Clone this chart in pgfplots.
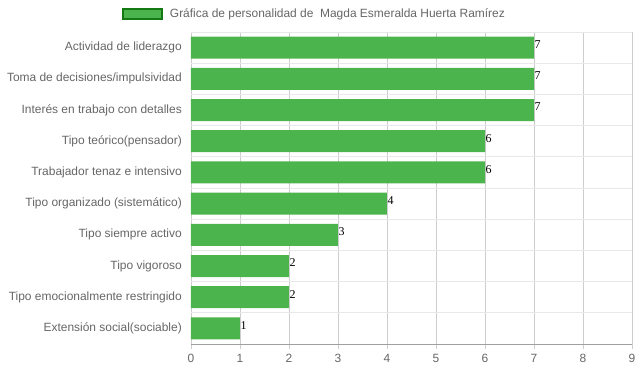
\documentclass[border=0pt]{standalone}
\usepackage{pgfplots}
\pgfplotsset{compat=1.18}
\usepackage{fontspec}
\setmainfont{Liberation Sans}
\newfontfamily\seriffont{Liberation Serif}
\definecolor{bargreen}{RGB}{76,180,76}
\definecolor{bordergreen}{RGB}{20,120,20}
\definecolor{txtgray}{RGB}{102,102,102}
\definecolor{vgrid}{RGB}{205,205,205}
\definecolor{hgrid}{RGB}{232,232,232}
\definecolor{axgray}{RGB}{160,160,160}
\begin{document}
\begin{tikzpicture}
\begin{axis}[
  at={(0,0)}, anchor=south west,
  scale only axis,
  width=441bp, height=312bp,
  xbar, bar width=22bp,
  xmin=0, xmax=9,
  ymin=-0.5, ymax=9.5,
  y dir=reverse,
  xtick={0,...,9},
  ytick={0,...,9},
  yticklabels={Actividad de liderazgo,Toma de decisiones/impulsividad,Interés en trabajo con detalles,Tipo teórico(pensador),Trabajador tenaz e intensivo,Tipo organizado (sistemático),Tipo siempre activo,Tipo vigoroso,Tipo emocionalmente restringido,Extensión social(sociable)},
  minor ytick={-0.5,0.5,...,9.5},
  xmajorgrids, yminorgrids,
  major x grid style={vgrid, line width=0.8bp},
  minor y grid style={hgrid, line width=0.8bp},
  axis x line*=bottom, axis y line*=left,
  axis line style={-, axgray, line width=0.8bp},
  y axis line style={draw=none},
  tick align=outside,
  x tick style={vgrid, line width=0.8bp},
  xtick style={vgrid},
  major tick length=5bp,
  ytick style={draw=none},
  minor y tick style={hgrid, line width=0.8bp},
  minor tick length=10bp,
  /pgf/number format/assume math mode=true,
  tick label style={font=\fontsize{12}{14}\selectfont, text=txtgray},
  yticklabel style={anchor=east, inner sep=0pt, xshift=-4bp},
  xticklabel style={inner sep=0pt, yshift=-5bp},
  nodes near coords,
  nodes near coords style={font=\seriffont\fontsize{12}{14}\selectfont, text=black, anchor=west, inner sep=0.5bp, yshift=3bp},
  legend style={at={(axis description cs:0.2803,1.058)}, anchor=center, draw=none, fill=none, font=\fontsize{12}{14}\selectfont, text=txtgray, inner sep=0pt, /tikz/every odd column/.append style={column sep=5bp}},
  legend image code/.code={\draw[fill=bargreen, draw=bordergreen, line width=1.6bp] (0bp,-5bp) rectangle (39bp,5bp);},
]
\addplot[fill=bargreen, draw=none] coordinates {
(7,0) (7,1) (7,2) (6,3) (6,4) (4,5) (3,6) (2,7) (2,8) (1,9)
};
\addlegendentry{Gráfica de personalidad de\ \ Magda Esmeralda Huerta Ramírez}
\end{axis}
\pgfresetboundingbox
\path[use as bounding box] (-191bp,-28bp) rectangle (448bp,344bp);
\end{tikzpicture}
\end{document}
